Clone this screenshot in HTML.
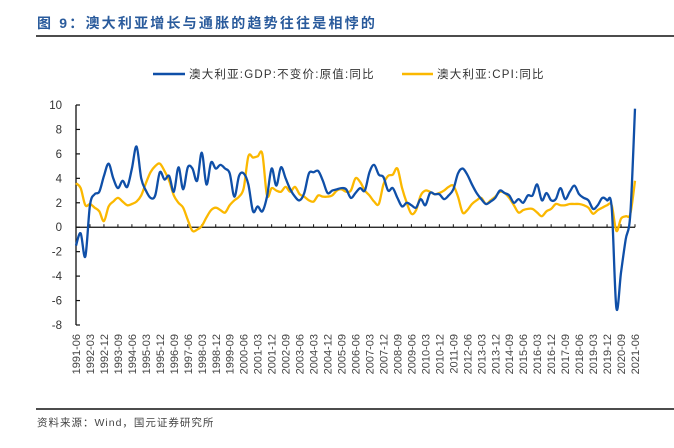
<!DOCTYPE html>
<html><head><meta charset="utf-8">
<style>
body{margin:0;background:#fff;}
#wrap{position:relative;width:674px;height:448px;overflow:hidden;font-family:"Liberation Sans","Noto Sans CJK SC",sans-serif;}
#title{position:absolute;left:37px;top:13px;font-size:14px;font-weight:bold;color:#2a5b9c;letter-spacing:2.2px;white-space:nowrap;}
#src{position:absolute;left:37px;top:415px;font-size:10.5px;color:#444;letter-spacing:1px;white-space:nowrap;}
</style></head><body>
<div id="wrap">
<div id="title">图 9：澳大利亚增长与通胀的趋势往往是相悖的</div>
<svg id="chart" width="674" height="448" style="position:absolute;left:0;top:0">
<line x1="36" y1="36" x2="674" y2="36" stroke="#111" stroke-width="1.5"/>
<line x1="36" y1="409" x2="674" y2="409" stroke="#111" stroke-width="1.5"/>
<g>
<line x1="153" y1="74" x2="185" y2="74" stroke="#0f4fa8" stroke-width="2.5"/>
<text x="189" y="78" font-size="11.5" fill="#333" letter-spacing="1.2">澳大利亚:GDP:不变价:原值:同比</text>
<line x1="402" y1="74" x2="433" y2="74" stroke="#fbb800" stroke-width="2.5"/>
<text x="437" y="78" font-size="11.5" fill="#333" letter-spacing="1.2">澳大利亚:CPI:同比</text>
</g>
<g id="axes"></g>
<g id="series"></g>
</svg>
<div id="src">资料来源：Wind，国元证券研究所</div>
</div>
<script>
const yTicks=[10,8,6,4,2,0,-2,-4,-6,-8];
const gdp=[-1.5,-0.5,-2.4,1.8,2.7,2.9,4.2,5.2,4.0,3.2,3.8,3.3,4.8,6.6,4.0,3.0,2.4,2.6,4.5,3.9,4.2,2.9,4.9,3.1,4.9,4.8,3.8,6.1,3.5,5.3,4.8,5.1,4.8,4.4,2.5,4.2,4.4,3.5,1.3,1.7,1.3,2.5,4.8,3.4,4.9,4.0,3.1,2.5,2.2,2.8,4.4,4.5,4.6,3.8,2.8,3.0,3.1,3.2,3.1,2.4,2.8,3.2,3.0,4.5,5.1,4.3,4.1,3.0,3.2,2.4,1.7,2.0,1.8,1.6,2.3,1.8,2.8,2.7,2.7,2.3,2.6,3.1,4.4,4.8,4.3,3.5,2.8,2.3,1.9,2.1,2.4,3.0,2.8,2.6,2.0,2.3,2.0,2.6,2.6,3.5,2.2,2.8,2.2,2.3,3.2,2.3,2.9,3.4,2.7,2.4,2.2,1.5,1.8,2.4,2.2,1.6,-6.6,-3.7,-1.0,1.1,9.7];
const cpi=[3.6,3.2,1.8,1.9,1.6,1.3,0.5,1.7,2.1,2.4,2.1,1.8,1.9,2.1,2.6,3.6,4.5,5.0,5.2,4.6,3.8,2.6,2.0,1.6,0.6,-0.3,-0.2,0.1,0.8,1.4,1.6,1.4,1.2,1.8,2.2,2.5,3.2,5.8,5.7,5.8,6.0,2.6,3.2,3.0,2.9,3.3,2.9,3.3,2.7,2.5,2.2,2.1,2.6,2.5,2.5,2.6,3.0,3.1,2.9,3.0,4.0,3.7,3.0,2.6,2.1,1.9,3.5,4.2,4.3,4.8,3.2,2.0,1.1,1.4,2.6,3.0,2.9,2.7,2.8,3.0,3.3,3.4,2.5,1.2,1.4,1.9,2.2,2.4,1.9,2.2,2.5,2.9,2.8,2.4,1.8,1.2,1.4,1.5,1.5,1.2,0.9,1.3,1.5,1.9,1.8,1.8,1.9,1.9,1.9,1.8,1.6,1.1,1.4,1.6,1.8,1.8,-0.3,0.7,0.9,1.1,3.8];
const categories=[];
for(let k=0;k<gdp.length;k++){const m=6+3*k;const yr=1991+Math.floor((m-1)/12);const mo=((m-1)%12)+1;categories.push(yr+'-'+(mo<10?'0':'')+mo);}
const NS='http://www.w3.org/2000/svg';
const x0=76,x1=635,yTop=105,yBot=325,vMax=10,vMin=-8;
function xs(i){return x0+(x1-x0)*i/(categories.length-1);}
function ys(v){return yTop+(vMax-v)*(yBot-yTop)/(vMax-vMin);}
function mk(tag,attrs,parent){const e=document.createElementNS(NS,tag);for(const k in attrs)e.setAttribute(k,attrs[k]);parent.appendChild(e);return e;}
const axes=document.getElementById('axes');
const ya=mk('line',{x1:x0,y1:yTop,x2:x0,y2:yBot,stroke:'#111','stroke-width':1.3},axes);


yTicks.forEach(v=>{
 const t=mk('line',{x1:x0,y1:ys(v),x2:x0+4,y2:ys(v),stroke:'#111','stroke-width':1.2},axes);
 
 
 const l=mk('text',{x:62,y:ys(v)+4,'font-size':11.5,fill:'#333','text-anchor':'end'},axes);
 l.textContent=v;
 
 
});
const xa=mk('line',{x1:x0,y1:ys(0),x2:x1,y2:ys(0),stroke:'#111','stroke-width':1.3},axes);


for(let i=0;i<categories.length;i+=3){
 const t=mk('line',{x1:xs(i),y1:ys(0),x2:xs(i),y2:ys(0)-3,stroke:'#111','stroke-width':1},axes);
 
 
 const l=mk('text',{x:0,y:0,'font-size':11,fill:'#444','text-anchor':'end',transform:'translate('+(xs(i)+4)+',334) rotate(-90)'},axes);
 l.textContent=categories[i];
 
 
}
function path(vals){
 const p=vals.map((v,i)=>[xs(i),ys(v)]);
 let d='M'+p[0][0]+','+p[0][1];
 for(let i=0;i<p.length-1;i++){
  const a=p[Math.max(0,i-1)],b=p[i],c=p[i+1],e=p[Math.min(p.length-1,i+2)];
  d+=' C'+(b[0]+(c[0]-a[0])/6)+','+(b[1]+(c[1]-a[1])/6)+' '+(c[0]-(e[0]-b[0])/6)+','+(c[1]-(e[1]-b[1])/6)+' '+c[0]+','+c[1];
 }
 return d;
}
const s=document.getElementById('series');
const pc=mk('path',{d:path(cpi),fill:'none',stroke:'#fbb800','stroke-width':2.3,'stroke-linejoin':'round'},s);


const pg=mk('path',{d:path(gdp),fill:'none',stroke:'#0f4fa8','stroke-width':2.3,'stroke-linejoin':'round'},s);


</script>
</body></html>
